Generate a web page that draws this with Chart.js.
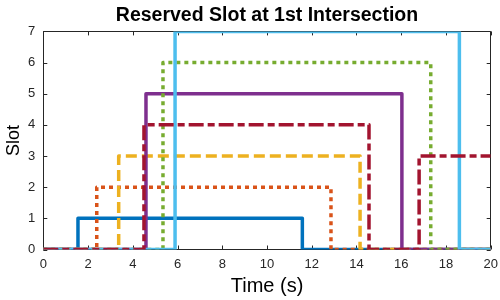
<!DOCTYPE html>
<html>
<head>
<meta charset="utf-8">
<script src="https://cdn.jsdelivr.net/npm/chart.js@4"></script>
<style>
  html, body { margin: 0; padding: 0; background: #fff; }
  #wrap { width: 500px; height: 300px; }
</style>
</head>
<body>
<div id="wrap"><canvas id="slot-chart"></canvas></div>
<script>
// --- Data (step changes: time in s, slot held from that time on) ---
const xTicks = [0, 2, 4, 6, 8, 10, 12, 14, 16, 18, 20];
const yTicks = [0, 1, 2, 3, 4, 5, 6, 7];

const blueT = [0, 1.55, 11.58, 20];
const blueY = [0, 1, 0, 0];
const orangeT = [0, 2.39, 12.86, 20];
const orangeY = [0, 2, 0, 0];
const yellowT = [0, 3.37, 14.16, 20];
const yellowY = [0, 3, 0, 0];
const purpleT = [0, 4.59, 16.03, 20];
const purpleY = [0, 5, 0, 0];
const greenT = [0, 5.35, 17.32, 20];
const greenY = [0, 6, 0, 0];
const lightBlueT = [0, 5.89, 18.6, 20];
const lightBlueY = [0, 7, 0, 0];
const redT = [0, 4.5, 14.56, 16.8, 20];
const redY = [0, 4, 0, 3, 3];

const AXIS_COLOR = '#262626';
const FONT = 'Liberation Sans, Arial, Helvetica, sans-serif';

function toPoints(ts, ys) {
  return ts.map((t, i) => ({ x: t, y: ys[i] }));
}

function series(ts, ys, color, dash, order) {
  return {
    data: toPoints(ts, ys),
    borderColor: color,
    borderWidth: 3.5,
    borderDash: dash,
    borderJoinStyle: 'round',
    stepped: true,
    pointRadius: 0,
    fill: false,
    order,
  };
}

// box with inward ticks, drawn under the lines like MATLAB's default layer
const boxPlugin = {
  id: 'matlabBox',
  beforeDatasetsDraw(chart) {
    const { ctx, chartArea: a, scales } = chart;
    const len = 4;
    ctx.save();
    ctx.strokeStyle = AXIS_COLOR;
    ctx.lineWidth = 1;
    ctx.beginPath();
    ctx.rect(Math.round(a.left) + 0.5, Math.round(a.top) + 0.5,
      Math.round(a.right - a.left), Math.round(a.bottom - a.top));
    xTicks.forEach(v => {
      const px = Math.round(scales.x.getPixelForValue(v)) + 0.5;
      ctx.moveTo(px, a.bottom); ctx.lineTo(px, a.bottom - len);
      ctx.moveTo(px, a.top); ctx.lineTo(px, a.top + len);
    });
    yTicks.forEach(v => {
      const py = Math.round(scales.y.getPixelForValue(v)) + 0.5;
      ctx.moveTo(a.left, py); ctx.lineTo(a.left + len, py);
      ctx.moveTo(a.right, py); ctx.lineTo(a.right - len, py);
    });
    ctx.stroke();
    ctx.restore();
  },
};

new Chart(document.getElementById('slot-chart'), {
  type: 'line',
  data: {
    datasets: [
      series(blueT, blueY, '#0072BD', [], 7),
      series(orangeT, orangeY, '#D95319', [4, 4], 6),
      series(yellowT, yellowY, '#EDB120', [11, 5], 5),
      series(purpleT, purpleY, '#7E2F8E', [], 4),
      series(greenT, greenY, '#77AC30', [4, 4], 3),
      series(lightBlueT, lightBlueY, '#4DBEEE', [], 2),
      series(redT, redY, '#A2142F', [15, 4, 7, 4], 1),
    ],
  },
  options: {
    responsive: true,
    maintainAspectRatio: false,
    animation: false,
    layout: { padding: { left: 0, right: 9.3, top: 0, bottom: 0 } },
    plugins: {
      legend: { display: false },
      tooltip: { enabled: false },
      title: {
        display: true,
        fullSize: false,
        text: 'Reserved Slot at 1st Intersection',
        color: '#000',
        font: { family: FONT, size: 19.5, weight: 'bold' },
        padding: { top: 4, bottom: 4 },
      },
    },
    scales: {
      x: {
        type: 'linear',
        min: 0,
        max: 20,
        afterBuildTicks: (s) => { s.ticks = xTicks.map(v => ({ value: v })); },
        afterFit: (s) => { s.height = 50.5; s.paddingLeft = 0; s.paddingRight = 0; },
        grid: { display: false, drawTicks: false },
        border: { display: false },
        ticks: { color: AXIS_COLOR, font: { family: FONT, size: 13 }, padding: 7, maxRotation: 0 },
        title: {
          display: true,
          text: 'Time (s)',
          color: '#000',
          font: { family: FONT, size: 20 },
          padding: { top: 0, bottom: 2 },
        },
      },
      y: {
        min: 0,
        max: 7,
        afterBuildTicks: (s) => { s.ticks = yTicks.map(v => ({ value: v })); },
        afterFit: (s) => { s.width = 43.3; s.paddingTop = 0; s.paddingBottom = 0; },
        grid: { display: false, drawTicks: false },
        border: { display: false },
        ticks: { color: AXIS_COLOR, font: { family: FONT, size: 13 }, padding: 8 },
        title: {
          display: true,
          text: 'Slot',
          color: '#000',
          font: { family: FONT, size: 18 },
          padding: { top: 3, bottom: 0 },
        },
      },
    },
  },
  plugins: [boxPlugin],
});
</script>
</body>
</html>
